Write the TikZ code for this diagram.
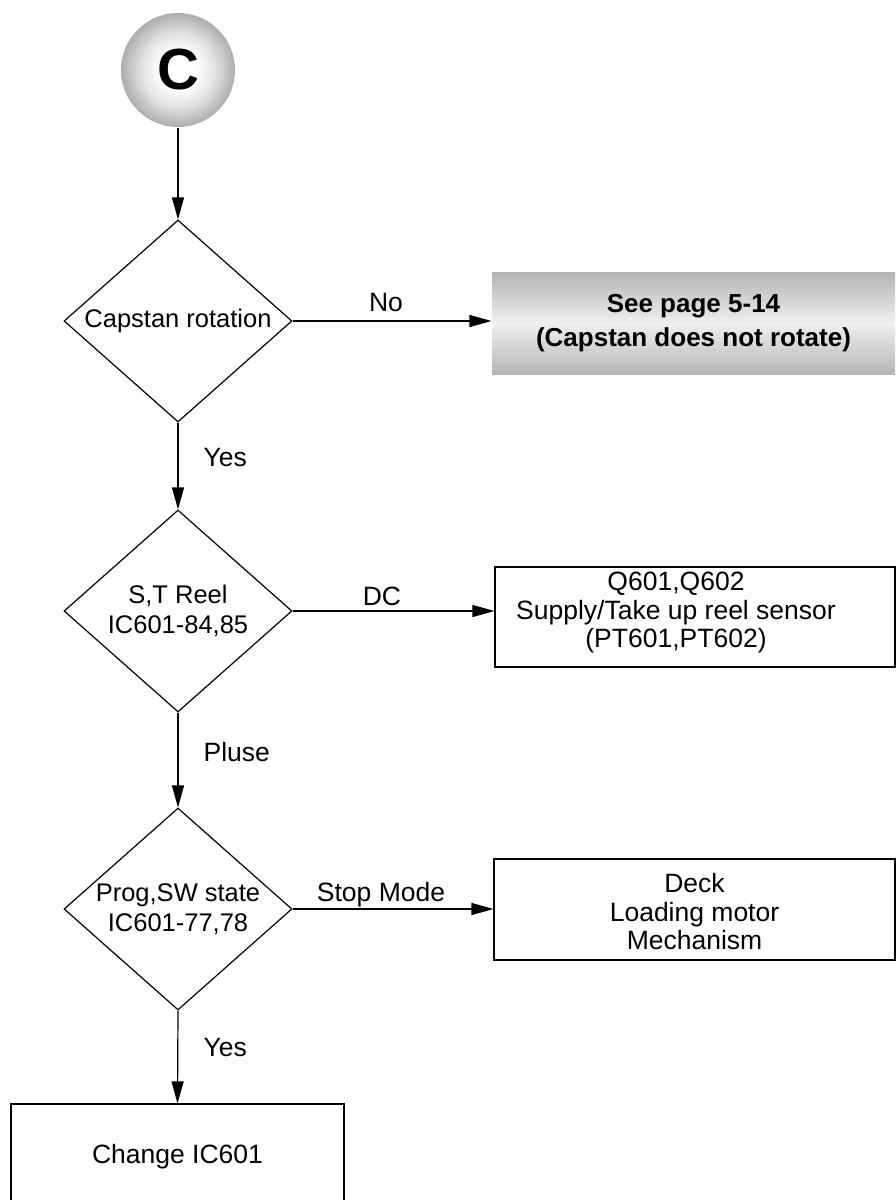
\documentclass[tikz,border=0pt]{standalone}
\usepackage{fontspec}
\setmainfont{Liberation Sans}
\usetikzlibrary{arrows.meta,shapes.geometric}
\pgfdeclareradialshading{cball}{\pgfpoint{0bp}{0bp}}{color(0bp)=(white); color(8bp)=(white); color(16bp)=(gray!22); color(25bp)=(gray!64); color(50bp)=(gray!64)}
\begin{document}
\begin{tikzpicture}[x=1pt,y=-1pt, line width=1.2pt,
  font=\fontsize{26.5}{30}\selectfont,
  dec/.style={draw, diamond, aspect=1.13, minimum width=228pt, minimum height=202pt, inner sep=0pt, align=center, font=\fontsize{25.5}{30}\selectfont},
  boxn/.style={draw, rectangle, inner sep=0pt},
  txt/.style={align=center, inner sep=0pt, font=\fontsize{26.5}{28.5}\selectfont},
  arr/.style={-{Triangle[length=22pt,width=12pt]}},
  lab/.style={inner sep=0pt}]
\useasboundingbox (0,0) rectangle (895,1200);
% start circle
\node[circle, shade, shading=cball, minimum size=114pt, inner sep=0pt,
      font=\bfseries\fontsize{58}{58}\selectfont] (c) at (178,70) {C};
% decisions
\node[dec] (d1) at (178,321) {Capstan rotation};
\node[dec] (d2) at (178,611) {S,T Reel\\IC601-84,85};
\node[dec] (d3) at (178,909) {Prog,SW state\\IC601-77,78};
% shaded box
\node[rectangle, minimum width=403pt, minimum height=102pt, inner sep=0pt,
      top color=gray!59, bottom color=gray!57, middle color=gray!12,
      align=center, font=\bfseries\fontsize{26}{34}\selectfont] (see) at (693.5,323)
      {See page 5-14\\(Capstan does not rotate)};
% boxes
\node[boxn, minimum width=400pt, minimum height=100pt] (b2) at (695,617) {};
\node[txt] (b2t) at (676,612.5) {Q601,Q602\\Supply/Take up reel sensor\\(PT601,PT602)};
\node[boxn, minimum width=401pt, minimum height=101pt] (b3) at (694.5,909.5) {};
\node[txt] (b3t) at (694.5,912) {Deck\\Loading motor\\Mechanism};
\node[boxn, minimum width=333pt, minimum height=106pt] (b4) at (177.5,1157) {Change IC601};
% connectors
\draw[arr] (c.south) -- (d1.north);
\draw[arr] (d1.south) -- (d2.north);
\draw[arr] (d2.south) -- (d3.north);
\draw[arr] (d3.south) -- (b4.north);
\draw[arr] (d1.east) -- (d1.east -| see.west);
\draw[arr] (d2.east) -- (d2.east -| b2.west);
\draw[arr] (d3.east) -- (d3.east -| b3.west);
% labels
\node[lab] (lno) at (386,303) {No};
\node[lab] (ldc) at (382,596) {DC};
\node[lab] (lstop) at (381,895) {Stop Mode};
\node[lab, anchor=west] (ly1) at (203,458) {Yes};
\node[lab, anchor=west] (lpl) at (203,752) {Pluse};
\node[lab, anchor=west] (ly2) at (203,1047) {Yes};
\end{tikzpicture}
\end{document}
